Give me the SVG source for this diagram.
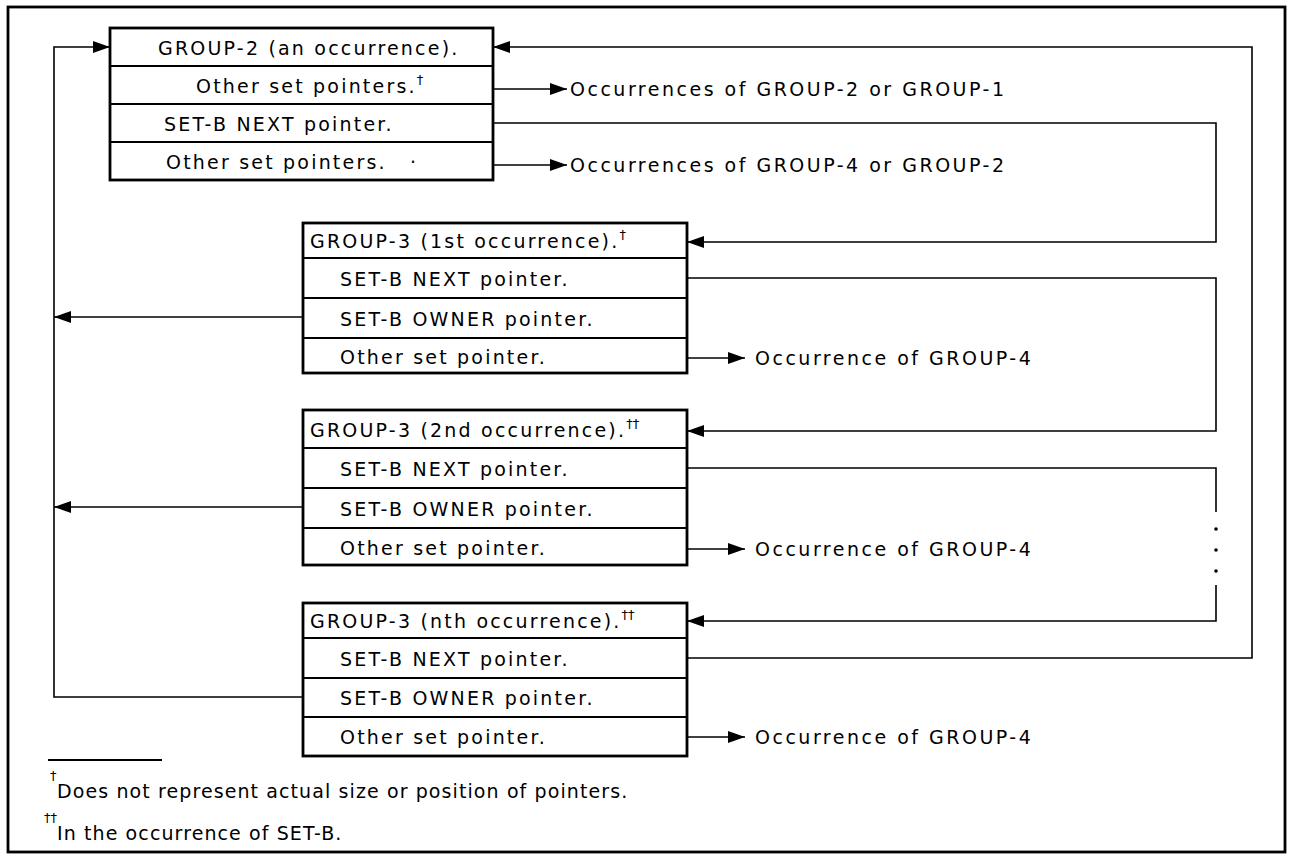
<svg xmlns="http://www.w3.org/2000/svg" width="1292" height="856" viewBox="0 0 1292 856">
<defs>
<marker id="ah" markerUnits="userSpaceOnUse" markerWidth="17" markerHeight="12" refX="17" refY="6" orient="auto">
<path d="M0,0 L17,6 L0,12 Z" fill="#000"/>
</marker>
<style>
.box{fill:#fff;stroke:#000;stroke-width:2.8}
.sep{stroke:#000;stroke-width:2.2}
.con{fill:none;stroke:#000;stroke-width:1.6}
.arr{fill:none;stroke:#000;stroke-width:1.6;marker-end:url(#ah)}
text{font-family:"DejaVu Sans","Liberation Sans",sans-serif;font-size:19px;fill:#000;letter-spacing:2.2px}
.lbl{letter-spacing:2.5px}
.fn{letter-spacing:1.1px}
.sup{font-size:13px;letter-spacing:0}
</style>
</defs>
<rect width="1292" height="856" fill="#fff"/>
<rect x="8" y="7" width="1277" height="845" fill="none" stroke="#000" stroke-width="2.8"/>

<g id="connectors">
<path class="arr" d="M303,697 H54 V47 H110"/>
<path class="arr" d="M303,317 H54"/>
<path class="arr" d="M303,507 H54"/>
<path class="arr" d="M687,658 H1252 V47 H493"/>
<path class="arr" d="M493,123 H1216 V242 H687"/>
<path class="arr" d="M687,278 H1216 V431 H687"/>
<path class="con" d="M687,468 H1216 V512"/>
<path class="arr" d="M1216,585 V621 H687"/>
<circle cx="1216" cy="529" r="1.8"/>
<circle cx="1216" cy="550" r="1.8"/>
<circle cx="1216" cy="571" r="1.8"/>
<path class="arr" d="M493,89 H567"/>
<path class="arr" d="M493,165 H567"/>
<path class="arr" d="M687,358 H745"/>
<path class="arr" d="M687,549 H745"/>
<path class="arr" d="M687,737 H745"/>
</g>

<g id="group2">
<rect class="box" x="110" y="28" width="383" height="152"/>
<path class="sep" d="M110,66 H493 M110,104 H493 M110,142 H493"/>
<text x="158" y="55">GROUP-2 (an occurrence).</text>
<text x="196" y="93">Other set pointers.<tspan class="sup" dy="-9">†</tspan></text>
<text x="164" y="131">SET-B NEXT pointer.</text>
<text x="166" y="169">Other set pointers.</text>
<text x="410" y="169">·</text>
</g>

<g id="group3-1st">
<rect class="box" x="303" y="223" width="384" height="150"/>
<path class="sep" d="M303,258 H687 M303,298 H687 M303,338 H687"/>
<text x="310" y="248">GROUP-3 (1st occurrence).<tspan class="sup" dy="-9">†</tspan></text>
<text x="340" y="286">SET-B NEXT pointer.</text>
<text x="340" y="326">SET-B OWNER pointer.</text>
<text x="340" y="364">Other set pointer.</text>
</g>

<g id="group3-2nd">
<rect class="box" x="303" y="410" width="384" height="155"/>
<path class="sep" d="M303,448 H687 M303,488 H687 M303,528 H687"/>
<text x="310" y="437">GROUP-3 (2nd occurrence).<tspan class="sup" dy="-9">††</tspan></text>
<text x="340" y="476">SET-B NEXT pointer.</text>
<text x="340" y="516">SET-B OWNER pointer.</text>
<text x="340" y="555">Other set pointer.</text>
</g>

<g id="group3-nth">
<rect class="box" x="303" y="603" width="384" height="153"/>
<path class="sep" d="M303,638 H687 M303,678 H687 M303,717 H687"/>
<text x="310" y="628">GROUP-3 (nth occurrence).<tspan class="sup" dy="-9">††</tspan></text>
<text x="340" y="666">SET-B NEXT pointer.</text>
<text x="340" y="705">SET-B OWNER pointer.</text>
<text x="340" y="744">Other set pointer.</text>
</g>

<g id="targets">
<text class="lbl" x="570" y="96">Occurrences of GROUP-2 or GROUP-1</text>
<text class="lbl" x="570" y="172">Occurrences of GROUP-4 or GROUP-2</text>
<text class="lbl" x="755" y="365">Occurrence of GROUP-4</text>
<text class="lbl" x="755" y="556">Occurrence of GROUP-4</text>
<text class="lbl" x="755" y="744">Occurrence of GROUP-4</text>
</g>

<g id="footnotes">
<path d="M48,760 H162" stroke="#000" stroke-width="2"/>
<text class="sup" x="50" y="780">†</text>
<text class="fn" x="57" y="798">Does not represent actual size or position of pointers.</text>
<text class="sup" x="44" y="822">††</text>
<text class="fn" x="57" y="840">In the occurrence of SET-B.</text>
</g>
</svg>
